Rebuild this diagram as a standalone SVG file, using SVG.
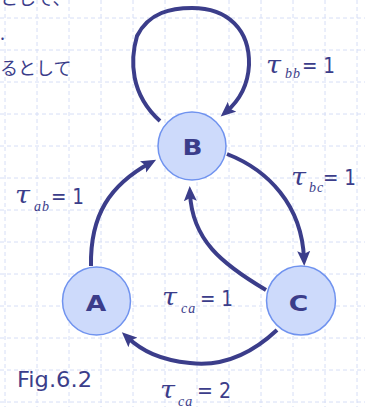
<svg xmlns="http://www.w3.org/2000/svg" width="365" height="407" viewBox="0 0 365 407">
<defs>
<style>
.grid{stroke:#d6def6;stroke-width:1;stroke-dasharray:4 3;fill:none}
.node{fill:#cddafb;stroke:#7093ef;stroke-width:1.5}
.lbl{font-family:"DejaVu Sans",Verdana,sans-serif;font-weight:bold;font-size:22px;fill:#3b3d8a;text-anchor:middle}
.edge{fill:none;stroke:#3b3d8a;stroke-width:4;marker-end:url(#ah)}
.tau{font-family:"DejaVu Serif",serif;font-style:italic;font-weight:normal;font-size:24px;fill:#3b3d8a}
.sub{font-family:"Liberation Serif","Times New Roman",serif;font-style:italic;font-size:14px;fill:#3b3d8a;letter-spacing:1px}
.eq{font-family:"DejaVu Sans",Verdana,sans-serif;font-size:21px;fill:#3b3d8a}
.jp{font-family:"Noto Sans CJK JP","Noto Sans",sans-serif;font-size:18px;fill:#3b3d8a}
</style>
<marker id="ah" markerUnits="userSpaceOnUse" viewBox="0 0 16 14" markerWidth="16" markerHeight="14" refX="8" refY="7" orient="auto">
<path d="M0,0.5 L15,7 L0,13.5 L3,7 Z" fill="#3b3d8a"/>
</marker>
</defs>
<rect width="365" height="407" fill="#ffffff"/>
<g id="grid" class="grid">
<path d="M5,0V407M37,0V407M69,0V407M101,0V407M133,0V407M165,0V407M197,0V407M229,0V407M261,0V407M293,0V407M325,0V407M357,0V407"/>
<path d="M0,18H365M0,50H365M0,82H365M0,114H365M0,146H365M0,178H365M0,210H365M0,242H365M0,274H365M0,306H365M0,338H365M0,370H365M0,402H365"/>
</g>
<g id="slide-text">
<text class="jp" x="0" y="5">として、</text>
<text class="jp" x="0" y="40">.</text>
<text class="jp" x="0" y="75">るとして</text>
</g>
<g id="connectors">
<path class="edge" d="M160,121 C130,94 130,60 137,36 C149,12 172,8 192,8 C228,8 250,30 249,65 C248,85 240,100 226,112"/>
<path class="edge" d="M91,266 C90,215 110,185 150,163"/>
<path class="edge" d="M227,154 C268,170 302,205 304,259"/>
<path class="edge" d="M266,290 C222,264 192,240 190,193"/>
<path class="edge" d="M277,330 C245,360 215,366 190,363 C160,360 142,351 127,337"/>
</g>
<g id="node-B">
<circle class="node" cx="192" cy="146" r="34"/>
<text class="lbl" x="192.5" y="155" textLength="20" lengthAdjust="spacingAndGlyphs">B</text>
</g>
<g id="node-A">
<circle class="node" cx="96.5" cy="301" r="34"/>
<text class="lbl" x="96" y="311" textLength="20.5" lengthAdjust="spacingAndGlyphs">A</text>
</g>
<g id="node-C">
<circle class="node" cx="301" cy="300.5" r="34.5"/>
<text class="lbl" x="298.5" y="310.5" textLength="19.5" lengthAdjust="spacingAndGlyphs">C</text>
</g>
<g id="labels">
<g id="label-bb"><text class="tau" x="266" y="73" textLength="15" lengthAdjust="spacingAndGlyphs">τ</text><text class="sub" x="285" y="78">bb</text><text class="eq" x="302" y="73" textLength="33" lengthAdjust="spacingAndGlyphs">= 1</text></g>
<g id="label-bc"><text class="tau" x="291" y="185" textLength="15" lengthAdjust="spacingAndGlyphs">τ</text><text class="sub" x="309" y="191.5">bc</text><text class="eq" x="323" y="185" textLength="33" lengthAdjust="spacingAndGlyphs">= 1</text></g>
<g id="label-ab"><text class="tau" x="15" y="203" textLength="15" lengthAdjust="spacingAndGlyphs">τ</text><text class="sub" x="34" y="211">ab</text><text class="eq" x="51" y="204" textLength="33" lengthAdjust="spacingAndGlyphs">= 1</text></g>
<g id="label-ca1"><text class="tau" x="162" y="305" textLength="15" lengthAdjust="spacingAndGlyphs">τ</text><text class="sub" x="181" y="313">ca</text><text class="eq" x="200" y="306" textLength="33" lengthAdjust="spacingAndGlyphs">= 1</text></g>
<g id="label-ca2"><text class="tau" x="160" y="398" textLength="15" lengthAdjust="spacingAndGlyphs">τ</text><text class="sub" x="178" y="405.5">ca</text><text class="eq" x="197" y="397.5" textLength="34" lengthAdjust="spacingAndGlyphs">= 2</text></g>
<text id="caption" class="eq" x="17" y="387" font-size="20.5" textLength="75" lengthAdjust="spacingAndGlyphs">Fig.6.2</text>
</g>
</svg>
